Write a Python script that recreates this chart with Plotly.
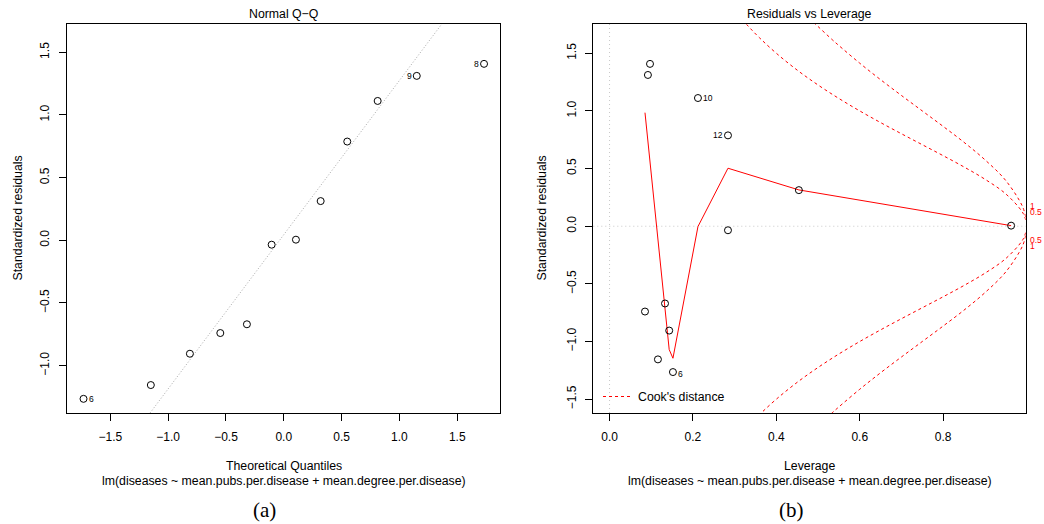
import plotly.graph_objects as go

# ---------------- data ----------------
leverage = [0.097, 0.092, 0.212, 0.284, 0.454, 0.963, 0.284, 0.085, 0.133, 0.143, 0.116, 0.152]
std_resid = [1.408, 1.312, 1.112, 0.788, 0.313, 0.005, -0.035, -0.740, -0.670, -0.905, -1.155, -1.265]
lev_labels = ["", "", "10", "12", "", "", "", "", "", "", "", "6"]

# theoretical normal quantiles (sorted order) for 12 observations
qq_theoretical = [-1.732, -1.150, -0.812, -0.549, -0.319, -0.105, 0.105, 0.319, 0.549, 0.812, 1.150, 1.732]
qq_labels = ["6", "", "", "", "", "", "", "", "", "", "9", "8"]
# dotted Q-Q reference line (end points)
qq_line_x = [-1.95, 1.95]
qq_line_y = [-2.354, 2.444]

# red smoother in the residuals vs leverage panel
smooth_lev = [0.085, 0.092, 0.097, 0.116, 0.133, 0.143, 0.152, 0.212, 0.284, 0.454, 0.963]
smooth_res = [0.985, 0.74, 0.56, -0.11, -0.71, -1.07, -1.145, -0.003, 0.503, 0.315, 0.005]

# Cook's distance contours (upper halves; lower halves are mirrored)
cook05_lev = [0.30, 0.33, 0.36, 0.40, 0.45, 0.50, 0.55, 0.60, 0.65, 0.70, 0.75, 0.80, 0.85, 0.90, 0.95, 0.99, 0.998]
cook05_val = [1.871, 1.745, 1.633, 1.500, 1.354, 1.225, 1.108, 1.000, 0.899, 0.802, 0.707, 0.612, 0.514, 0.408, 0.281, 0.123, 0.055]
cook1_lev = [0.46, 0.49, 0.50, 0.534, 0.55, 0.60, 0.65, 0.70, 0.75, 0.80, 0.85, 0.90, 0.95, 0.99, 0.998]
cook1_val = [1.882, 1.767, 1.732, 1.618, 1.567, 1.414, 1.271, 1.134, 1.000, 0.866, 0.728, 0.577, 0.397, 0.174, 0.078]
cook_tick_vals = [-0.174, -0.123, 0.123, 0.174]
cook_tick_text = ["1", "0.5", "0.5", "1"]

qq_xticks = [-1.5, -1.0, -0.5, 0.0, 0.5, 1.0, 1.5]
qq_yticks = [-1.0, -0.5, 0.0, 0.5, 1.0, 1.5]
lev_xticks = [0.0, 0.2, 0.4, 0.6, 0.8]
lev_yticks = [-1.5, -1.0, -0.5, 0.0, 0.5, 1.0, 1.5]

subtitle = "lm(diseases ~ mean.pubs.per.disease + mean.degree.per.disease)"

# ---------------- layout helpers ----------------
W, H = 1044, 524
def fx(p):
    return p / W
def fy(p):
    return 1 - p / H

FONT = "Liberation Sans, Arial, Helvetica, sans-serif"
SERIF = "Liberation Serif, DejaVu Serif, serif"
BASE = 12.3

def fmt(v):
    return f"{v:.1f}".replace("-", "\u2212")

fig = go.Figure()

# ---------- panel (a): Normal Q-Q ----------
fig.add_trace(go.Scatter(x=qq_line_x, y=qq_line_y, mode="lines",
                         line=dict(color="#a8a8a8", dash="1px,2px", width=1),
                         xaxis="x", yaxis="y", showlegend=False, hoverinfo="skip"))
fig.add_trace(go.Scatter(x=qq_theoretical, y=sorted(std_resid), mode="markers",
                         marker=dict(symbol="circle-open", size=7, color="black", line=dict(width=1)),
                         xaxis="x", yaxis="y", showlegend=False))

# ---------- panel (b): Residuals vs Leverage ----------
for lev, val in ((cook05_lev, cook05_val), (cook1_lev, cook1_val)):
    for sign in (1, -1):
        fig.add_trace(go.Scatter(x=lev, y=[sign * v for v in val], mode="lines",
                                 line=dict(color="#ff0000", dash="3px,3px", width=1, shape="spline"),
                                 xaxis="x2", yaxis="y2", showlegend=False, hoverinfo="skip"))
fig.add_trace(go.Scatter(x=smooth_lev, y=smooth_res, mode="lines",
                         line=dict(color="#ff0000", width=1),
                         xaxis="x2", yaxis="y2", showlegend=False, hoverinfo="skip"))
fig.add_trace(go.Scatter(x=leverage, y=std_resid, mode="markers",
                         marker=dict(symbol="circle-open", size=7, color="black", line=dict(width=1)),
                         xaxis="x2", yaxis="y2", showlegend=False))
# legend entry
fig.add_trace(go.Scatter(x=[None], y=[None], mode="lines", name="Cook's distance",
                         line=dict(color="#ff0000", dash="3px,3px", width=1),
                         xaxis="x2", yaxis="y2", showlegend=True))

# reference dotted lines at 0
fig.add_shape(type="line", xref="x2 domain", yref="y2", x0=0, x1=1, y0=0, y1=0,
              line=dict(color="#c8c8c8", dash="1px,3px", width=1), layer="below")
fig.add_shape(type="line", xref="x2", yref="y2 domain", x0=0, x1=0, y0=0, y1=1,
              line=dict(color="#c8c8c8", dash="1px,3px", width=1), layer="below")

annotations = []
# point labels
for x, y, lab in zip(qq_theoretical, sorted(std_resid), qq_labels):
    if lab:
        right = x < 0
        annotations.append(dict(x=x, y=y, xref="x", yref="y", text=lab, showarrow=False,
                                xanchor="left" if right else "right", xshift=3 if right else -3,
                                yshift=0, font=dict(family=FONT, size=8.5, color="black")))
for x, y, lab in zip(leverage, std_resid, lev_labels):
    if lab:
        right = x < 0.218
        annotations.append(dict(x=x, y=y, xref="x2", yref="y2", text=lab, showarrow=False,
                                xanchor="left" if right else "right", xshift=3 if right else -3,
                                yshift=-2 if lab == "6" else 0,
                                font=dict(family=FONT, size=8.5, color="black")))
# Cook's distance level labels on the right edge
for v, lab in zip(cook_tick_vals, cook_tick_text):
    annotations.append(dict(x=1, y=v, xref="x2 domain", yref="y2", text=lab, showarrow=False,
                            xanchor="left", yanchor="middle", xshift=2,
                            font=dict(family=FONT, size=8.5, color="#ff0000")))

def txt(x, y, s, size=BASE, family=FONT, angle=0):
    annotations.append(dict(x=fx(x), y=fy(y), xref="paper", yref="paper", text=s,
                            showarrow=False, xanchor="center", yanchor="middle",
                            textangle=angle, font=dict(family=family, size=size, color="black")))

txt(283.5, 14, "Normal Q\u2212Q")
txt(809.5, 14, "Residuals vs Leverage")
txt(283.5, 466, "Theoretical Quantiles")
txt(283.5, 481, subtitle)
txt(809.5, 466, "Leverage")
txt(809.5, 481, subtitle)
txt(17, 218.5, "Standardized residuals", angle=-90)
txt(541, 218.5, "Standardized residuals", angle=-90)
txt(264.5, 510, "(a)", 21, SERIF)
txt(791, 510, "(b)", 21, SERIF)

axis_common = dict(showline=True, linecolor="black", linewidth=1, mirror=True,
                   ticks="outside", ticklen=7, tickcolor="black", tickwidth=1,
                   showgrid=False, zeroline=False,
                   tickfont=dict(family=FONT, size=12, color="black"))

fig.update_layout(
    width=W, height=H,
    margin=dict(l=0, r=0, t=0, b=0),
    paper_bgcolor="white", plot_bgcolor="white",
    xaxis=dict(domain=[fx(67), fx(500)], range=[-1.875, 1.870], anchor="y",
               tickvals=qq_xticks, ticktext=[fmt(v) for v in qq_xticks],
               ticklabelstandoff=6, **axis_common),
    yaxis=dict(domain=[fy(413), fy(24)], range=[-1.378, 1.726], anchor="x",
               tickvals=qq_yticks, ticktext=[fmt(v) for v in qq_yticks],
               tickangle=-90, ticklabelstandoff=5, **axis_common),
    xaxis2=dict(domain=[fx(593.3), fx(1025.7)], range=[-0.039, 0.998], anchor="y2",
                tickvals=lev_xticks, ticktext=[fmt(v) for v in lev_xticks],
                ticklabelstandoff=6, **axis_common),
    yaxis2=dict(domain=[fy(413), fy(24)], range=[-1.62, 1.754], anchor="x2",
                tickvals=lev_yticks, ticktext=[fmt(v) for v in lev_yticks],
                tickangle=-90, ticklabelstandoff=5, **axis_common),
    legend=dict(x=fx(598), y=fy(382), xanchor="left", yanchor="top",
                bgcolor="rgba(0,0,0,0)", itemwidth=30,
                font=dict(family=FONT, size=BASE, color="black")),
    annotations=annotations,
)

fig.write_html("out.html", config={"displayModeBar": False},
               post_script="document.body.style.margin='0';document.body.style.padding='0';")
